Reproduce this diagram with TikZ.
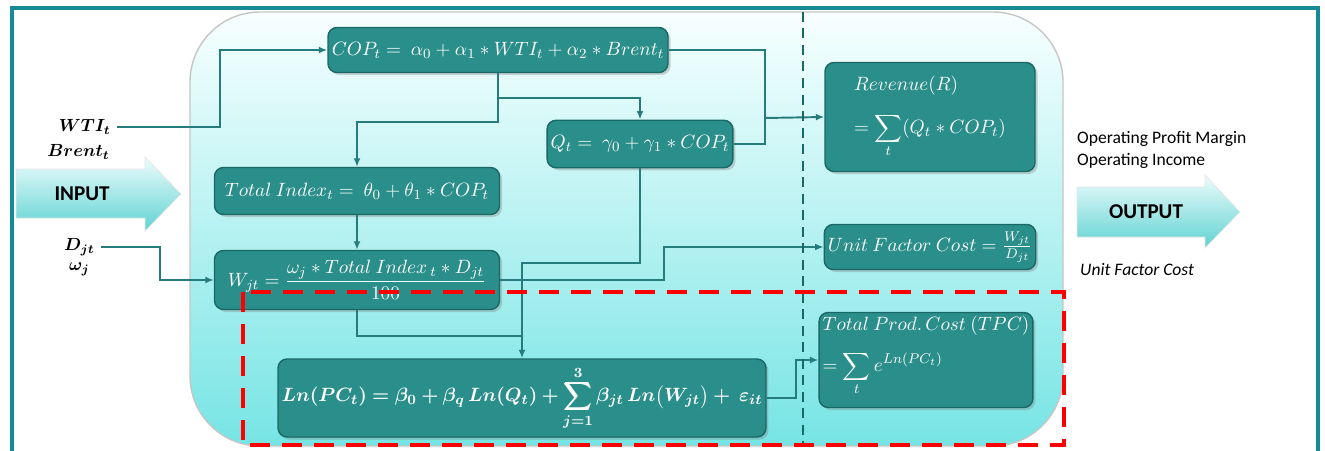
\documentclass[tikz,border=0pt]{standalone}
\usepackage{amsmath,amssymb,bm}
\usepackage[no-math]{fontspec}
\setmainfont{Carlito}
\usepackage{xcolor}
\usetikzlibrary{arrows.meta,positioning,shadows,calc}

\definecolor{frameteal}{RGB}{22,138,150}
\definecolor{boxfill}{RGB}{42,142,138}
\definecolor{boxline}{RGB}{26,104,102}
\definecolor{wire}{RGB}{38,124,124}
\definecolor{paneltop}{RGB}{248,255,255}
\definecolor{panelmid}{RGB}{200,247,247}
\definecolor{panelbot}{RGB}{118,228,228}
\definecolor{arrowtop}{RGB}{236,252,252}
\definecolor{arrowbot}{RGB}{96,210,210}

\begin{document}
\begin{tikzpicture}[x=0.2mm, y=-0.2mm,
  eqbox/.style={draw=boxline, line width=0.8pt, fill=boxfill, rounded corners=1.8mm,
                text=white, font=\fontsize{10.95}{13}\selectfont, inner sep=2pt,
                drop shadow={opacity=0.35, shadow xshift=0.5mm, shadow yshift=-0.5mm}},
  line/.style={draw=wire, line width=1.1pt},
  arr/.style={line, -{Latex[length=1.7mm, width=1.4mm]}},
  invar/.style={font=\fontsize{10.4}{12}\selectfont, anchor=east},
  outtext/.style={font=\normalsize, anchor=west}
]
\useasboundingbox (0,0) rectangle (1325,451);

% outer frame
\draw[frameteal, line width=1.8pt] (12,460) -- (12,8) -- (1318,8) -- (1318,460);

% inner panel
\shade[rounded corners=14mm, top color=paneltop, middle color=panelmid, bottom color=panelbot,
       draw=gray!45, line width=0.8pt] (190,12) rectangle (1063,446);

% input / output arrows
\shade[top color=arrowtop, bottom color=arrowbot, draw=gray!20]
  (16,169) -- (145,169) -- (145,157) -- (181,194) -- (145,231) -- (145,218) -- (16,218) -- cycle;
\node[font=\large\bfseries] (input) at (82,194) {INPUT};
\shade[top color=arrowtop, bottom color=arrowbot, draw=gray!20]
  (1077,187) -- (1205,187) -- (1205,175) -- (1240,212) -- (1205,248) -- (1205,237) -- (1077,237) -- cycle;
\node[font=\large\bfseries] (output) at (1146,212) {OUTPUT};

% input variables
\node[invar] (wti)   at (117,127) {$\bm{WTI_t}$};
\node[invar] (brent) at (116,152) {$\bm{Brent_t}$};
\node[invar] (djt)   at (101,247) {$\bm{D_{jt}}$};
\node[invar] (omj)   at (96,269)  {$\bm{\omega_j}$};

% output labels
\node[outtext] (opm) at (1071,139) {Operating Profit Margin};
\node[outtext] (opi) at (1071,161) {Operating Income};
\node[outtext, font=\normalsize\itshape] (ufcout) at (1074,270) {Unit Factor Cost};

% equation boxes
\node[eqbox, minimum width=68mm, minimum height=9mm] (cop) at (498,50)
  {$COP_t = \ \alpha_0 + \alpha_1 * WTI_t + \alpha_2 * Brent_t$};
\node[eqbox, minimum width=37mm, minimum height=9.5mm] (qt) at (640,144)
  {$Q_t = \ \gamma_0 + \gamma_1 * COP_t$};
\node[eqbox, minimum width=57mm, minimum height=9.4mm] (tidx) at (357,191)
  {$Total\ Index_t = \ \theta_0 + \theta_1 * COP_t$};
\node[eqbox, minimum width=57mm, minimum height=11.8mm] (wit) at (357,280)
  {$W_{jt} = \dfrac{\omega_j * Total\ Index\,_t * D_{jt}}{100}$};
\node[eqbox, minimum width=96mm, minimum height=15.6mm] (ln) at (522,398)
  {$\displaystyle \bm{Ln(PC_t) = \beta_0 + \beta_q\, Ln(Q_t) + \sum_{j=1}^{3} \beta_{jt}\, Ln\big(W_{jt}\big) + \ \varepsilon_{it}}$};
\node[eqbox, minimum width=42mm, minimum height=21.8mm, align=left] (rev) at (930,117)
  {$Revenue(R)$\\[9pt] $\displaystyle = \sum_t (Q_t * COP_t)$};
\node[eqbox, minimum width=42mm, minimum height=19mm, align=left, text depth=6.5mm] (tpc) at (926,360)
  {$Total\ Prod.\,Cost\ (TPC)$\\[8pt] $\displaystyle = \sum_t e^{Ln(PC_t)}$};
\node[eqbox, minimum width=42mm, minimum height=9mm] (ufc) at (930,247)
  {$Unit\ Factor\ Cost = \frac{W_{jt}}{D_{jt}}$};

% junctions
\coordinate (jrev) at (765,118);
\coordinate (jq)   at (522,263);
\coordinate (jw)   at (522,336);

% connectors
\draw[arr] (wti.east) -- ++(103,0) |- (cop.west);
\draw[arr] (cop.south) -- ++(0,25) -| (qt.north);
\draw[arr] (cop.south) -- ++(0,49) -| (tidx.north);
\draw[arr] (tidx.south) -- (wit.north);
\draw[arr] (djt.east) -- ++(59,0) |- (wit.west);
\draw[line] (cop.east) -| (jrev);
\draw[line] (qt.east) -| (jrev);
\draw[arr] (jrev) -- (rev.west);
\draw[arr] (wit.east) -- ++(164,0) |- (ufc.west);
\draw[line] (wit.south) |- (jw);
\draw[arr] (qt.south) |- (jq) -- (ln.north);
\draw[arr] (ln.east) -- ++(29,0) |- (tpc.west);

% boundaries
\draw[boxline, line width=1.3pt, dash pattern=on 2mm off 1.3mm] (803,12) -- (803,446);
\draw[red, line width=2.4pt, dash pattern=on 4mm off 2.4mm] (243,292) rectangle (1064,445);

\end{tikzpicture}
\end{document}
